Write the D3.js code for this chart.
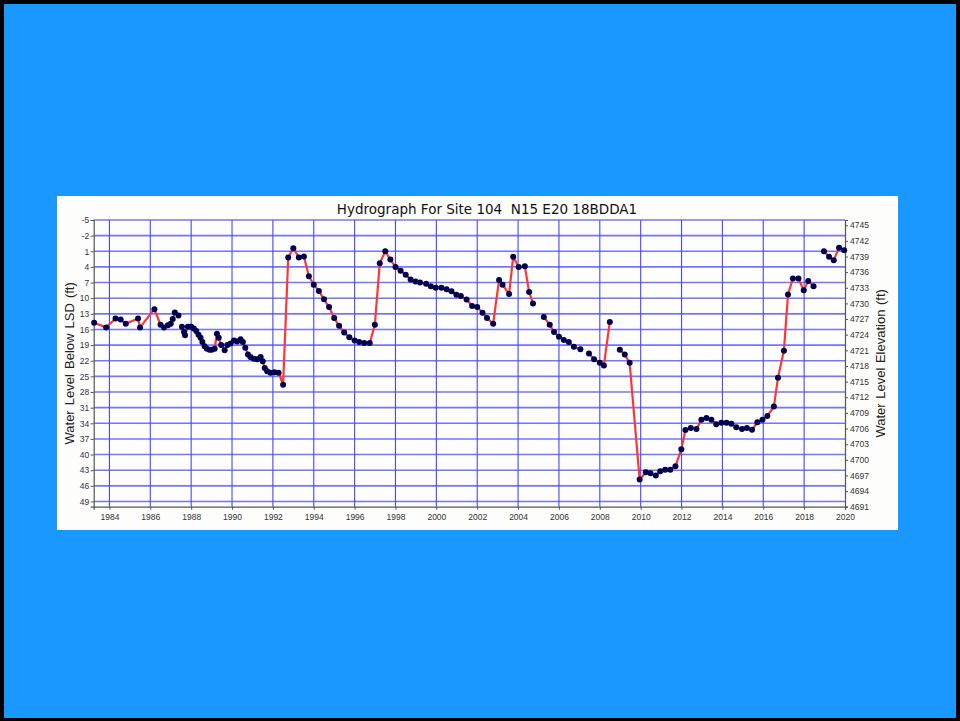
<!DOCTYPE html>
<html>
<head>
<meta charset="utf-8">
<script src="https://cdn.jsdelivr.net/npm/d3@7"></script>
<style>
  html, body { margin: 0; padding: 0; background: #1999ff; }
  svg { display: block; }
</style>
</head>
<body>
<svg id="chart" width="960" height="721"></svg>
<script>
// ---- data (null marks a break in the line) ----
const titleText = "Hydrograph For Site 104\u00a0\u00a0N15 E20 18BDDA1";
const leftLabel = "Water Level Below LSD (ft)";
const rightLabel = "Water Level Elevation (ft)";
const landSurface = 4741;

const years = [
  1983.25, 1983.84, 1984.30, 1984.55, 1984.80, 1985.40, 1985.50, 1986.20, 1986.50, 1986.67,
  1986.86, 1987.00, 1987.10, 1987.20, 1987.38, null,
  1987.55, 1987.65, 1987.70, 1987.84, 1988.00, 1988.13, 1988.25, 1988.36, 1988.46, 1988.55,
  1988.66, 1988.77, 1988.90, 1989.00, 1989.15, 1989.26, 1989.35, 1989.47, 1989.64, 1989.77,
  1989.93, 1990.10, 1990.25, 1990.42, 1990.53, 1990.65, 1990.78, 1990.90, 1991.07, 1991.23,
  1991.40, 1991.50, 1991.60, 1991.72, 1991.88, 1992.08, 1992.28, 1992.50, 1992.75, 1993.00,
  1993.27, 1993.52, 1993.76, 1994.00, 1994.25, 1994.50, 1994.75, 1995.00, 1995.24, 1995.49,
  1995.74, 1996.00, 1996.22, 1996.47, 1996.74, 1996.99, 1997.23, 1997.50, 1997.75, 1998.00,
  1998.25, 1998.50, 1998.74, 1998.98, 1999.20, 1999.50, 1999.73, 1999.97, 2000.25, 2000.50,
  2000.74, 2000.98, 2001.20, 2001.48, 2001.75, 2002.00, 2002.26, 2002.48, 2002.78, 2003.07,
  2003.24, 2003.56, 2003.76, 2004.03, 2004.33, 2004.54, 2004.73, null,
  2005.26, 2005.55, 2005.76, 2006.00, 2006.24, 2006.48, 2006.73, 2007.05, null,
  2007.47, 2007.72, 2008.00, 2008.20, 2008.49, null,
  2008.98, 2009.22, 2009.46, 2009.95, 2010.25, 2010.48, 2010.74, 2010.96, 2011.20, 2011.45,
  2011.70, 2011.99, 2012.19, 2012.45, 2012.73, 2012.97, 2013.22, 2013.46, 2013.70, 2013.95,
  2014.20, 2014.44, 2014.68, 2014.96, 2015.20, 2015.45, 2015.71, 2015.96, 2016.20, 2016.52,
  2016.72, 2017.01, 2017.21, 2017.45, 2017.72, 2017.98, 2018.20, 2018.46, null,
  2018.97, 2019.22, 2019.45, 2019.71, 2019.96
];
const depthFt = [
  14.7, 15.6, 13.9, 14.1, 14.9, 13.9, 15.6, 12.1, 15.1, 15.6,
  15.2, 14.9, 14.0, 12.75, 13.3, null,
  15.5, 16.5, 17.1, 15.5, 15.5, 15.8, 16.3, 17.0, 17.6, 18.4,
  19.2, 19.7, 19.9, 19.9, 19.7, 16.8, 17.6, 19.0, 20.0, 19.0,
  18.7, 18.1, 18.3, 17.9, 18.4, 19.5, 20.8, 21.3, 21.6, 21.7,
  21.3, 22.1, 23.4, 24.0, 24.3, 24.2, 24.3, 26.6, 2.2, 0.4,
  2.2, 2.0, 5.8, 7.4, 8.6, 10.2, 11.7, 13.8, 15.3, 16.6,
  17.5, 18.1, 18.4, 18.6, 18.6, 15.1, 3.3, 1.0, 2.6, 4.0,
  4.75, 5.5, 6.4, 6.8, 7.0, 7.25, 7.7, 8.0, 8.0, 8.3,
  8.65, 9.35, 9.6, 10.25, 11.5, 11.7, 12.8, 13.8, 14.9, 6.5,
  7.4, 9.2, 2.05, 4.0, 3.85, 8.8, 11.0, null,
  13.6, 15.1, 16.5, 17.4, 18.0, 18.4, 19.3, 19.8, null,
  20.6, 21.7, 22.4, 22.9, 14.55, null,
  19.9, 20.8, 22.4, 44.8, 43.4, 43.6, 44.0, 43.2, 42.9, 42.9,
  42.25, 39.0, 35.3, 34.9, 35.1, 33.3, 33.0, 33.3, 34.2, 33.9,
  33.9, 34.1, 34.75, 35.1, 34.9, 35.25, 33.8, 33.3, 32.6, 30.8,
  25.25, 20.1, 9.3, 6.2, 6.2, 8.5, 6.7, 7.7, null,
  1.0, 2.05, 2.7, 0.3, 0.8
];
const yearTicks = [1984, 1986, 1988, 1990, 1992, 1994, 1996, 1998, 2000, 2002,
  2004, 2006, 2008, 2010, 2012, 2014, 2016, 2018, 2020];
const depthTicks = [-5, -2, 1, 4, 7, 10, 13, 16, 19, 22, 25, 28, 31, 34, 37, 40, 43, 46, 49];
const elevTicks = [4691, 4694, 4697, 4700, 4703, 4706, 4709, 4712, 4715, 4718, 4721,
  4724, 4727, 4730, 4733, 4736, 4739, 4742, 4745];

// ---- layout ----
const svg = d3.select("#chart");
const W = 960, H = 721;
const plot = { left: 93.7, right: 845, top: 220, bottom: 506.7 };

const x = d3.scaleLinear().domain([1983.23, 2020]).range([plot.left, plot.right]);
const y = d3.scaleLinear().domain([-5, 50]).range([plot.top, plot.bottom]);
const yR = d3.scaleLinear().domain([landSurface + 5, landSurface - 50]).range([plot.top, plot.bottom]);

// background + page border
svg.append("rect").attr("x", 0).attr("y", 0).attr("width", W).attr("height", H).attr("fill", "#1999ff");
svg.append("rect").attr("x", 2).attr("y", 2).attr("width", W - 4).attr("height", H - 3)
  .attr("fill", "none").attr("stroke", "#000").attr("stroke-width", 4);

// chart panel
svg.append("rect").attr("x", 57).attr("y", 196).attr("width", 841).attr("height", 334)
  .attr("fill", "#fdfdfb");

// title
svg.append("text").attr("x", 487).attr("y", 213.5).attr("text-anchor", "middle")
  .attr("font-family", "DejaVu Sans, Verdana, sans-serif").attr("font-size", 13.5)
  .attr("fill", "#111").text(titleText);

// grid
const grid = svg.append("g");
grid.selectAll("line.h").data(depthTicks).enter().append("line")
  .attr("x1", plot.left).attr("x2", plot.right)
  .attr("y1", d => y(d)).attr("y2", d => y(d))
  .attr("stroke", "#7474ff").attr("stroke-width", 1.6);
grid.selectAll("line.v").data(yearTicks.filter(d => d < 2020)).enter().append("line")
  .attr("x1", d => x(d)).attr("x2", d => x(d))
  .attr("y1", plot.top).attr("y2", plot.bottom)
  .attr("stroke", "#4747ff").attr("stroke-width", 1.1);

// axes
const tickFont = "Liberation Sans, Arial, sans-serif";
const fmt = d => String(d);
const gB = svg.append("g").attr("transform", `translate(0,${plot.bottom})`)
  .call(d3.axisBottom(x).tickValues(yearTicks).tickFormat(fmt).tickSize(3).tickPadding(3));
const gL = svg.append("g").attr("transform", `translate(${plot.left},0)`)
  .call(d3.axisLeft(y).tickValues(depthTicks).tickFormat(fmt).tickSize(3).tickPadding(1.5));
const gR = svg.append("g").attr("transform", `translate(${plot.right},0)`)
  .call(d3.axisRight(yR).tickValues(elevTicks).tickFormat(fmt).tickSize(3).tickPadding(2));
[gB, gL, gR].forEach(g => {
  g.selectAll("path.domain").attr("stroke", "#555").attr("stroke-width", 1.2);
  g.selectAll(".tick line").attr("stroke", "#555");
  g.selectAll(".tick text").attr("font-family", tickFont).attr("font-size", 8.5).attr("fill", "#333");
});
gB.selectAll(".tick text").attr("dy", "0.9em");

// axis titles
svg.append("text")
  .attr("transform", `translate(74,${(plot.top + plot.bottom) / 2}) rotate(-90)`)
  .attr("text-anchor", "middle").attr("font-family", "Liberation Sans, Arial, sans-serif")
  .attr("font-size", 13).attr("word-spacing", 1.5).attr("fill", "#222").text(leftLabel);
svg.append("text")
  .attr("transform", `translate(885,${(plot.top + plot.bottom) / 2}) rotate(-90)`)
  .attr("text-anchor", "middle").attr("font-family", "Liberation Sans, Arial, sans-serif")
  .attr("font-size", 13).attr("word-spacing", 1).attr("fill", "#222").text(rightLabel);

// series
const pts = years.map((yr, i) => ({ yr, d: depthFt[i] }));
const line = d3.line().defined(p => p.yr != null && p.d != null)
  .x(p => x(p.yr)).y(p => y(p.d));
svg.append("path").datum(pts).attr("d", line)
  .attr("fill", "none").attr("stroke", "#ff3636").attr("stroke-width", 2.2)
  .attr("stroke-linejoin", "round");
svg.append("g").selectAll("circle").data(pts.filter(p => p.yr != null)).enter().append("circle")
  .attr("cx", p => x(p.yr)).attr("cy", p => y(p.d)).attr("r", 3)
  .attr("fill", "#000050");
</script>
</body>
</html>
